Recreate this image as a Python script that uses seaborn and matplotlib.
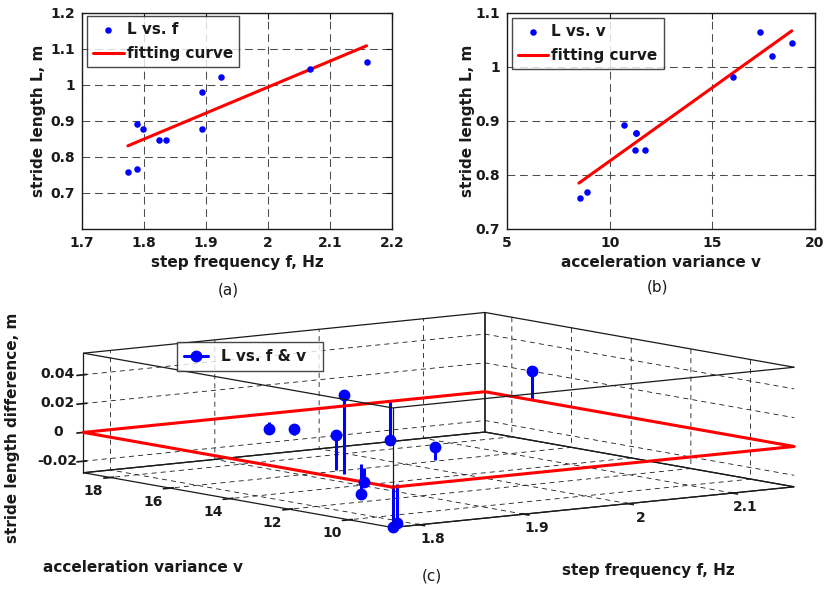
import numpy as np
import matplotlib
matplotlib.use('Agg')
import matplotlib.pyplot as plt
import seaborn as sns
from matplotlib.lines import Line2D
from matplotlib.legend_handler import HandlerLine2D

# values (one entry per walking trial)
step_freq = [1.774, 1.789, 1.789, 1.799, 1.824, 1.835, 1.894, 1.894, 1.924, 2.068, 2.159]
acc_var = [8.54, 8.91, 10.69, 11.30, 11.25, 11.72, 11.30, 16.03, 17.93, 18.90, 17.33]
stride_len = [0.757, 0.768, 0.892, 0.878, 0.847, 0.847, 0.878, 0.981, 1.021, 1.044, 1.065]
stride_diff = [-0.028, -0.027, 0.055, 0.024, -0.010, -0.021, 0.009, 0.004, -0.005, -0.027, 0.020]

# fitted lines, end points
fit_f = [1.774, 2.159]
fit_f_len = [0.831, 1.109]
fit_v = [8.50, 18.87]
fit_v_len = [0.785, 1.067]

# ticks
f_ticks = [1.7, 1.8, 1.9, 2.0, 2.1, 2.2]
f_ticklabels = ['1.7', '1.8', '1.9', '2', '2.1', '2.2']
la_ticks = [0.7, 0.8, 0.9, 1.0, 1.1, 1.2]
la_ticklabels = ['0.7', '0.8', '0.9', '1', '1.1', '1.2']
v_ticks = [5, 10, 15, 20]
lb_ticks = [0.7, 0.8, 0.9, 1.0, 1.1]
lb_ticklabels = ['0.7', '0.8', '0.9', '1', '1.1']
f3_ticks = [1.8, 1.9, 2.0, 2.1]
f3_ticklabels = ['1.8', '1.9', '2', '2.1']
v3_ticks = [10, 12, 14, 16, 18]
z_ticks = [-0.02, 0, 0.02, 0.04]
z_ticklabels = ['-0.02', '0', '0.02', '0.04']

sns.set_theme(style='white')
plt.rcParams['font.family'] = ['DejaVu Sans']
plt.rcParams['font.weight'] = 'bold'
plt.rcParams['axes.labelweight'] = 'bold'
plt.rcParams['text.color'] = 'k'
plt.rcParams['axes.labelcolor'] = 'k'
plt.rcParams['xtick.color'] = 'k'
plt.rcParams['ytick.color'] = 'k'
plt.rcParams['grid.color'] = 'k'
plt.rcParams['grid.linestyle'] = (0, (6, 5))
plt.rcParams['grid.linewidth'] = 0.6

W, H = 827, 592
fig = plt.figure(figsize=(W / 100, H / 100), dpi=100)


def px_rect(x0, y0, x1, y1):
    return [x0 / W, 1 - y1 / H, (x1 - x0) / W, (y1 - y0) / H]


def style_2d(ax):
    for s in ax.spines.values():
        s.set_visible(True)
        s.set_color('k')
        s.set_linewidth(1.0)
    ax.tick_params(direction='in', length=4, width=0.8, labelsize=10, pad=5,
                   top=True, right=True)
    ax.grid(True, color='0.3', linestyle=(0, (7.5, 4.5)), linewidth=0.75)
    for t in ax.get_xticklabels() + ax.get_yticklabels():
        t.set_fontweight('bold')


def add_legend(ax, x, y):
    leg = ax.legend(loc='upper left', bbox_to_anchor=(x, y), borderaxespad=0,
                    frameon=True, fancybox=False, handlelength=2.0,
                    handletextpad=0.2, borderpad=0.4, labelspacing=0.6,
                    prop={'weight': 'bold', 'size': 11})
    leg.get_frame().set_edgecolor('k')
    leg.get_frame().set_linewidth(1.0)
    return leg


# (a) stride length vs step frequency
ax_a = fig.add_axes(px_rect(82, 13, 392, 229))
sns.scatterplot(x=step_freq, y=stride_len, ax=ax_a, color='blue', s=22,
                linewidth=0, label='L vs. f', zorder=3)
sns.lineplot(x=fit_f, y=fit_f_len, ax=ax_a, color='red', linewidth=2.2,
             label='fitting curve', zorder=2)
ax_a.set_xlim(1.7, 2.2)
ax_a.set_ylim(0.6, 1.2)
ax_a.set_xticks(f_ticks, f_ticklabels)
ax_a.set_yticks(la_ticks, la_ticklabels)
ax_a.set_xlabel('step frequency f, Hz', fontsize=11)
ax_a.set_ylabel('stride length L, m', fontsize=11)
ax_a.xaxis.set_label_coords(0.5, -0.12)
ax_a.yaxis.set_label_coords(-0.115, 0.5)
style_2d(ax_a)
add_legend(ax_a, 0.016, 0.986)

# (b) stride length vs acceleration variance
ax_b = fig.add_axes(px_rect(507, 13, 815, 229))
sns.scatterplot(x=acc_var, y=stride_len, ax=ax_b, color='blue', s=22,
                linewidth=0, label='L vs. v', zorder=3)
sns.lineplot(x=fit_v, y=fit_v_len, ax=ax_b, color='red', linewidth=2.2,
             label='fitting curve', zorder=2)
ax_b.set_xlim(5, 20)
ax_b.set_ylim(0.7, 1.1)
ax_b.set_xticks(v_ticks)
ax_b.set_yticks(lb_ticks, lb_ticklabels)
ax_b.set_xlabel('acceleration variance v', fontsize=11)
ax_b.set_ylabel('stride length L, m', fontsize=11)
ax_b.xaxis.set_label_coords(0.5, -0.12)
ax_b.yaxis.set_label_coords(-0.105, 0.5)
style_2d(ax_b)
add_legend(ax_b, 0.015, 0.977)

# (c) residuals in 3D
S = 739
cx, cy = 438.75, 420
x0 = cx - 0.5135 * S
y0 = cy - 0.4865 * S
ax_c = fig.add_axes(px_rect(x0, y0, x0 + S, y0 + S), projection='3d')
ax_c.set_proj_type('ortho')
ax_c.view_init(elev=7.7, azim=-127.1)
ax_c.set_box_aspect((505, 514, 121), zoom=0.957)
ax_c.set_facecolor('none')

f_lo, f_hi = min(step_freq), max(step_freq)
v_lo, v_hi = min(acc_var), max(acc_var)
z_lo, z_hi = min(stride_diff), max(stride_diff)

# zero plane outline
ax_c.plot([f_lo, f_hi, f_hi, f_lo, f_lo], [v_lo, v_lo, v_hi, v_hi, v_lo],
          [0, 0, 0, 0, 0], color='red', linewidth=2.2)
stem = ax_c.stem(step_freq, acc_var, stride_diff, bottom=0,
                 linefmt='-', markerfmt='o', basefmt=' ')
stem.markerline.set_color('blue')
stem.markerline.set_markersize(7.5)
stem.stemlines.set_color('blue')
stem.stemlines.set_linewidth(2.2)
stem.baseline.set_visible(False)

# front box edges (matlab draws the full box)
ax_c.plot([f_lo, f_lo], [v_lo, v_lo], [z_lo, z_hi], color='k', linewidth=0.9)
ax_c.plot([f_lo, f_lo, f_hi], [v_hi, v_lo, v_lo], [z_hi, z_hi, z_hi],
          color='k', linewidth=0.9)

ax_c.set_xlim(f_lo, f_hi)
ax_c.set_ylim(v_lo, v_hi)
ax_c.set_zlim(z_lo, z_hi)
ax_c.set_xticks(f3_ticks, f3_ticklabels)
ax_c.set_yticks(v3_ticks)
ax_c.set_zticks(z_ticks, z_ticklabels)
ax_c.tick_params(labelsize=10)
ax_c.zaxis.set_tick_params(pad=2)
for t in ax_c.zaxis.get_ticklabels():
    t.set_verticalalignment('center')
for axis in (ax_c.xaxis, ax_c.yaxis, ax_c.zaxis):
    axis.pane.fill = False
    axis.pane.set_alpha(1.0)
    axis.pane.set_edgecolor('k')
    axis.pane.set_linewidth(0.9)
    axis.line.set_color('k')
    axis.line.set_linewidth(0.9)
    axis._axinfo['grid'].update(color='k', linewidth=0.6, linestyle=(0, (6, 5)))

handle = Line2D([], [], color='blue', linewidth=2.2, marker='o', markersize=7.5)


class StemHandler(HandlerLine2D):
    def get_xdata(self, legend, xdescent, ydescent, width, height, fontsize):
        xd = np.array([-xdescent, -xdescent + width])
        return xd, xd[-1:]


leg = ax_c.legend([handle], ['L vs. f & v  '], loc='upper left',
                  bbox_to_anchor=(177 / W, 1 - 342 / H), bbox_transform=fig.transFigure,
                  borderaxespad=0, frameon=True, fancybox=False, handlelength=1.6,
                  handletextpad=0.8, borderpad=0.45, prop={'weight': 'bold', 'size': 11},
                  handler_map={Line2D: StemHandler()})
leg.get_frame().set_edgecolor('k')
leg.get_frame().set_linewidth(1.0)

fig.text(13 / W, 1 - 428 / H, 'stride length difference, m', rotation=90,
         ha='center', va='center', fontsize=11, fontweight='bold')
fig.text(143 / W, 1 - 567 / H, 'acceleration variance v', ha='center', va='center',
         fontsize=11, fontweight='bold')
fig.text(648 / W, 1 - 570 / H, 'step frequency f, Hz', ha='center', va='center',
         fontsize=11, fontweight='bold')

# captions
fig.text(228 / W, 1 - 290 / H, '(a)', ha='center', va='center', fontsize=11, fontweight='normal')
fig.text(658 / W, 1 - 287 / H, '(b)', ha='center', va='center', fontsize=11, fontweight='normal')
fig.text(432 / W, 1 - 576 / H, '(c)', ha='center', va='center', fontsize=11, fontweight='normal')

fig.savefig('out.png', dpi=100)
